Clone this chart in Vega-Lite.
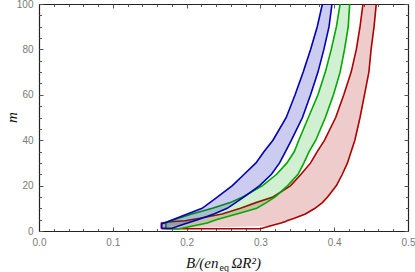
{
  "$schema": "https://vega.github.io/schema/vega-lite/v6.json",
  "width": 369,
  "height": 227,
  "autosize": {"type": "none"},
  "padding": {"left": 39, "top": 4, "right": 7, "bottom": 41},
  "background": "white",
  "config": {
    "view": {"stroke": null},
    "axis": {
      "grid": false,
      "domain": false,
      "tickColor": "#555555",
      "tickWidth": 1,
      "labelColor": "#7a7a7a",
      "labelFont": "Liberation Sans",
      "labelFontSize": 10,
      "titleFont": "Liberation Serif",
      "titleFontWeight": "normal",
      "titleColor": "#111111"
    }
  },
  "data": {
    "values": [
      {"b": "blue", "m": 1.2, "xl": 0.166, "xr": 0.166},
      {"b": "blue", "m": 1.2, "xl": 0.166, "xr": 0.180},
      {"b": "blue", "m": 3.1, "xl": 0.166, "xr": 0.197},
      {"b": "blue", "m": 5, "xl": 0.181, "xr": 0.215},
      {"b": "blue", "m": 7.5, "xl": 0.201, "xr": 0.237},
      {"b": "blue", "m": 10, "xl": 0.221, "xr": 0.255},
      {"b": "blue", "m": 15, "xl": 0.242, "xr": 0.278},
      {"b": "blue", "m": 20, "xl": 0.262, "xr": 0.299},
      {"b": "blue", "m": 25, "xl": 0.278, "xr": 0.315},
      {"b": "blue", "m": 30, "xl": 0.294, "xr": 0.326},
      {"b": "blue", "m": 35, "xl": 0.305, "xr": 0.334},
      {"b": "blue", "m": 40, "xl": 0.317, "xr": 0.342},
      {"b": "blue", "m": 50, "xl": 0.335, "xr": 0.357},
      {"b": "blue", "m": 60, "xl": 0.347, "xr": 0.368},
      {"b": "blue", "m": 70, "xl": 0.358, "xr": 0.378},
      {"b": "blue", "m": 80, "xl": 0.368, "xr": 0.386},
      {"b": "blue", "m": 90, "xl": 0.377, "xr": 0.393},
      {"b": "blue", "m": 100, "xl": 0.384, "xr": 0.397},

      {"b": "green", "m": 1, "xl": 0.172, "xr": 0.172},
      {"b": "green", "m": 1, "xl": 0.172, "xr": 0.190},
      {"b": "green", "m": 2, "xl": 0.172, "xr": 0.205},
      {"b": "green", "m": 3.5, "xl": 0.172, "xr": 0.228},
      {"b": "green", "m": 5, "xl": 0.183, "xr": 0.240},
      {"b": "green", "m": 7.5, "xl": 0.207, "xr": 0.268},
      {"b": "green", "m": 10, "xl": 0.235, "xr": 0.295},
      {"b": "green", "m": 12.5, "xl": 0.259, "xr": 0.308},
      {"b": "green", "m": 15, "xl": 0.276, "xr": 0.320},
      {"b": "green", "m": 20, "xl": 0.303, "xr": 0.337},
      {"b": "green", "m": 25, "xl": 0.322, "xr": 0.351},
      {"b": "green", "m": 30, "xl": 0.336, "xr": 0.359},
      {"b": "green", "m": 35, "xl": 0.346, "xr": 0.366},
      {"b": "green", "m": 40, "xl": 0.352, "xr": 0.375},
      {"b": "green", "m": 50, "xl": 0.365, "xr": 0.388},
      {"b": "green", "m": 60, "xl": 0.378, "xr": 0.399},
      {"b": "green", "m": 70, "xl": 0.388, "xr": 0.408},
      {"b": "green", "m": 80, "xl": 0.396, "xr": 0.414},
      {"b": "green", "m": 90, "xl": 0.403, "xr": 0.419},
      {"b": "green", "m": 100, "xl": 0.408, "xr": 0.421},

      {"b": "red", "m": 1, "xl": 0.166, "xr": 0.166},
      {"b": "red", "m": 1, "xl": 0.166, "xr": 0.300},
      {"b": "red", "m": 2.2, "xl": 0.166, "xr": 0.313},
      {"b": "red", "m": 3.5, "xl": 0.166, "xr": 0.328},
      {"b": "red", "m": 4.2, "xl": 0.182, "xr": 0.334},
      {"b": "red", "m": 4.5, "xl": 0.198, "xr": 0.336},
      {"b": "red", "m": 5.6, "xl": 0.218, "xr": 0.346},
      {"b": "red", "m": 7.5, "xl": 0.248, "xr": 0.361},
      {"b": "red", "m": 10, "xl": 0.273, "xr": 0.374},
      {"b": "red", "m": 12.5, "xl": 0.294, "xr": 0.384},
      {"b": "red", "m": 15, "xl": 0.317, "xr": 0.391},
      {"b": "red", "m": 20, "xl": 0.341, "xr": 0.403},
      {"b": "red", "m": 25, "xl": 0.355, "xr": 0.411},
      {"b": "red", "m": 30, "xl": 0.368, "xr": 0.418},
      {"b": "red", "m": 35, "xl": 0.377, "xr": 0.423},
      {"b": "red", "m": 40, "xl": 0.387, "xr": 0.428},
      {"b": "red", "m": 50, "xl": 0.402, "xr": 0.435},
      {"b": "red", "m": 60, "xl": 0.413, "xr": 0.441},
      {"b": "red", "m": 70, "xl": 0.423, "xr": 0.447},
      {"b": "red", "m": 80, "xl": 0.430, "xr": 0.450},
      {"b": "red", "m": 90, "xl": 0.435, "xr": 0.454},
      {"b": "red", "m": 100, "xl": 0.439, "xr": 0.457}
    ]
  },
  "resolve": {"axis": {"x": "independent", "y": "independent"}},
  "layer": [
    {
      "transform": [{"filter": "datum.b === 'red'"}],
      "mark": {"type": "area", "orient": "horizontal", "fill": "#aa0000", "fillOpacity": 0.2, "clip": true},
      "encoding": {
        "y": {"field": "m", "type": "quantitative",
          "scale": {"domain": [0, 100], "nice": false},
          "axis": {"orient": "left", "values": [0, 20, 40, 60, 80, 100],
            "tickSize": -4, "labelPadding": 10, "domain": true, "domainColor": "#222222", "domainWidth": 1.2,
            "labelFlush": false,
            "title": "m", "titleFontSize": 15, "titleFontStyle": "italic", "titleAngle": -90,
            "titleX": -23, "titleY": 113, "titleAlign": "center", "titleBaseline": "alphabetic"}},
        "x": {"field": "xl", "type": "quantitative",
          "scale": {"domain": [0, 0.5], "nice": false, "zero": false},
          "axis": {"orient": "bottom", "values": [0, 0.1, 0.2, 0.3, 0.4, 0.5], "format": ".1f",
            "tickSize": -4, "labelPadding": 10, "domain": true, "domainColor": "#222222", "domainWidth": 1.2,
            "labelFlush": false,
            "title": "B/(en", "titleFontSize": 15, "titleFontStyle": "italic",
            "titleX": 179, "titleY": 36, "titleAlign": "right", "titleBaseline": "alphabetic"}},
        "x2": {"field": "xr"}
      }
    },
    {
      "transform": [{"filter": "datum.b === 'red'"}, {"fold": ["xl", "xr"], "as": ["edge", "x"]}],
      "mark": {"type": "line", "color": "#aa0000", "strokeWidth": 1.6, "clip": true},
      "encoding": {
        "x": {"field": "x", "type": "quantitative",
          "axis": {"orient": "bottom", "values": [0, 0.02, 0.04, 0.06, 0.08, 0.1, 0.12, 0.14, 0.16, 0.18, 0.2, 0.22, 0.24, 0.26, 0.28, 0.3, 0.32, 0.34, 0.36, 0.38, 0.4, 0.42, 0.44, 0.46, 0.48, 0.5],
            "tickSize": -2.5, "labels": false, "title": "eq", "titleFontSize": 10, "titleFontStyle": "normal",
            "titleX": 180, "titleY": 39, "titleAlign": "left", "titleBaseline": "alphabetic"}},
        "y": {"field": "m", "type": "quantitative",
          "axis": {"orient": "left", "values": [0, 5, 10, 15, 20, 25, 30, 35, 40, 45, 50, 55, 60, 65, 70, 75, 80, 85, 90, 95, 100],
            "tickSize": -2.5, "labels": false, "title": null}},
        "detail": {"field": "edge"},
        "order": [{"field": "m", "type": "quantitative"}, {"field": "x", "type": "quantitative"}]
      }
    },
    {
      "transform": [{"filter": "datum.b === 'green'"}],
      "mark": {"type": "area", "orient": "horizontal", "fill": "#00a800", "fillOpacity": 0.18, "clip": true},
      "encoding": {
        "y": {"field": "m", "type": "quantitative",
          "axis": {"orient": "right", "values": [0, 20, 40, 60, 80, 100], "tickSize": -4, "labels": false,
            "domain": true, "domainColor": "#222222", "domainWidth": 1.2, "title": null}},
        "x": {"field": "xl", "type": "quantitative",
          "axis": {"orient": "top", "values": [0, 0.1, 0.2, 0.3, 0.4, 0.5], "tickSize": -4, "labels": false,
            "domain": true, "domainColor": "#222222", "domainWidth": 1.2,
            "title": "ΩR²)", "titleFont": "Liberation Serif", "titleFontSize": 15, "titleFontStyle": "italic",
            "titleX": 192, "titleY": 263, "titleAlign": "left", "titleBaseline": "alphabetic"}},
        "x2": {"field": "xr"}
      }
    },
    {
      "transform": [{"filter": "datum.b === 'green'"}, {"fold": ["xl", "xr"], "as": ["edge", "x"]}],
      "mark": {"type": "line", "color": "#00a800", "strokeWidth": 1.6, "clip": true},
      "encoding": {
        "x": {"field": "x", "type": "quantitative",
          "axis": {"orient": "top", "values": [0, 0.02, 0.04, 0.06, 0.08, 0.1, 0.12, 0.14, 0.16, 0.18, 0.2, 0.22, 0.24, 0.26, 0.28, 0.3, 0.32, 0.34, 0.36, 0.38, 0.4, 0.42, 0.44, 0.46, 0.48, 0.5],
            "tickSize": -2.5, "labels": false, "title": null}},
        "y": {"field": "m", "type": "quantitative",
          "axis": {"orient": "right", "values": [0, 5, 10, 15, 20, 25, 30, 35, 40, 45, 50, 55, 60, 65, 70, 75, 80, 85, 90, 95, 100],
            "tickSize": -2.5, "labels": false, "title": null}},
        "detail": {"field": "edge"},
        "order": [{"field": "m", "type": "quantitative"}, {"field": "x", "type": "quantitative"}]
      }
    },
    {
      "transform": [{"filter": "datum.b === 'blue'"}],
      "mark": {"type": "area", "orient": "horizontal", "fill": "#0000b4", "fillOpacity": 0.2, "clip": true},
      "encoding": {
        "y": {"field": "m", "type": "quantitative", "axis": null},
        "x": {"field": "xl", "type": "quantitative", "axis": null},
        "x2": {"field": "xr"}
      }
    },
    {
      "transform": [{"filter": "datum.b === 'blue'"}, {"fold": ["xl", "xr"], "as": ["edge", "x"]}],
      "mark": {"type": "line", "color": "#0000b4", "strokeWidth": 1.6, "clip": true},
      "encoding": {
        "x": {"field": "x", "type": "quantitative", "axis": null},
        "y": {"field": "m", "type": "quantitative", "axis": null},
        "detail": {"field": "edge"},
        "order": [{"field": "m", "type": "quantitative"}, {"field": "x", "type": "quantitative"}]
      }
    }
  ]
}
